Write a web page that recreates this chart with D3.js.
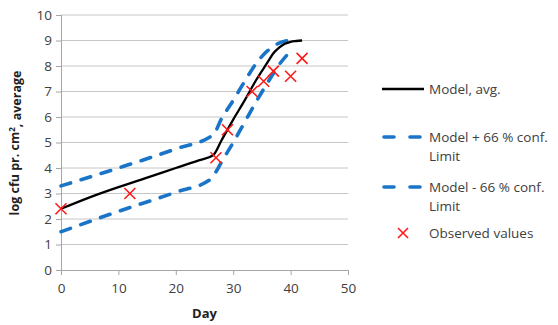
<!DOCTYPE html>
<html>
<head>
<meta charset="utf-8">
<script src="https://cdn.jsdelivr.net/npm/d3@7"></script>
<style>
  body { margin: 0; background: #fff; }
  text { font-family: "Open Sans", "Liberation Sans", sans-serif; }
</style>
</head>
<body>
<svg id="chart" width="558" height="325"></svg>
<script>
// model average curve [day, log cfu]
var modelAvg = [[0, 2.4], [5, 2.85], [10, 3.25], [15, 3.62], [20, 4.0], [24, 4.3], [26.5, 4.5],
  [28, 5.1], [30, 5.9], [32, 6.65], [34, 7.45], [36, 8.15], [37, 8.5], [38, 8.72], [39, 8.87],
  [40, 8.95], [41, 8.98], [42, 9.0]];
var modelUpper = [[0, 3.3], [10, 4.0], [20, 4.75], [26.5, 5.3],
  [28, 5.95], [30, 6.65], [32, 7.4], [34, 8.1], [36, 8.6], [38, 8.9], [39.5, 9.0]];
var modelLower = [[0, 1.5], [10, 2.3], [20, 3.05], [26, 3.55],
  [27, 3.85], [28, 4.25], [30, 5.0], [32, 5.8], [34, 6.6], [36, 7.35], [38, 8.05], [40.5, 8.7]];
var observed = [[0, 2.4], [12, 3.0], [27, 4.4], [29, 5.5], [33.3, 7.0], [35.3, 7.4], [37, 7.8], [40, 7.6], [42, 8.3]];

var xTicks = [0, 10, 20, 30, 40, 50];
var yTicks = [0, 1, 2, 3, 4, 5, 6, 7, 8, 9, 10];
var legendLabels = [["Model, avg."], ["Model + 66 % conf.", "Limit"], ["Model - 66 % conf.", "Limit"], ["Observed values"]];

var svg = d3.select("#chart");
var x = d3.scaleLinear().domain([0, 50]).range([61, 348]);
var y = d3.scaleLinear().domain([0, 10]).range([270, 15]);

// gridlines
svg.append("g").selectAll("line").data(yTicks.slice(1)).enter().append("line")
  .attr("x1", x(0)).attr("x2", x(50))
  .attr("y1", function(d) { return y(d); }).attr("y2", function(d) { return y(d); })
  .attr("stroke", "#c6c6c6").attr("stroke-width", 1);

// axes
var xAxis = d3.axisBottom(x).tickValues(xTicks).tickSize(5).tickPadding(6);
var yAxis = d3.axisLeft(y).tickValues(yTicks).tickSize(5).tickPadding(4);
var gx = svg.append("g").attr("transform", "translate(0,270)").call(xAxis);
var gy = svg.append("g").attr("transform", "translate(61,0)").call(yAxis);
[gx, gy].forEach(function(g) {
  g.select(".domain").attr("stroke", "#a6a6a6");
  g.selectAll(".tick line").attr("stroke", "#a6a6a6");
  g.selectAll(".tick text").attr("fill", "#404040").style("font-size", "13.5px")
    .style("font-family", "'Open Sans', sans-serif");
});
gx.selectAll(".tick text").attr("dy", "0.9em");

// axis titles
svg.append("text").attr("x", x(25)).attr("y", 318).attr("text-anchor", "middle")
  .style("font-size", "13px").style("font-weight", "bold").attr("fill", "#222").text("Day");
var yt = svg.append("text").attr("transform", "translate(19,143) rotate(-90)").attr("text-anchor", "middle")
  .style("font-size", "12.5px").style("font-weight", "bold").attr("fill", "#222");
yt.append("tspan").text("log cfu pr. cm");
yt.append("tspan").attr("dy", "-0.45em").style("font-size", "8px").text("2");
yt.append("tspan").attr("dy", "0.45em").text(", average");

// lines
var line = d3.line().x(function(d) { return x(d[0]); }).y(function(d) { return y(d[1]); })
  .curve(d3.curveMonotoneX);
var dashes = "10,11";
[modelUpper, modelLower].forEach(function(s) {
  svg.append("path").attr("d", line(s)).attr("fill", "none")
    .attr("stroke", "#1a75c8").attr("stroke-width", 3.6)
    .attr("stroke-linecap", "round").attr("stroke-dasharray", dashes);
});
svg.append("path").attr("d", line(modelAvg)).attr("fill", "none")
  .attr("stroke", "#000").attr("stroke-width", 2.3);

// observed markers
function cross(g, cx, cy, r) {
  g.append("path").attr("d", "M" + (cx - r) + "," + (cy - r) + "L" + (cx + r) + "," + (cy + r) +
    "M" + (cx - r) + "," + (cy + r) + "L" + (cx + r) + "," + (cy - r))
    .attr("stroke", "#ff1a1a").attr("stroke-width", 1.6).attr("fill", "none");
}
var gm = svg.append("g");
observed.forEach(function(d) { cross(gm, x(d[0]), y(d[1]), 5.5); });

// legend
var lg = svg.append("g");
var legendY = [89, 137, 187, 233];
lg.append("line").attr("x1", 382).attr("x2", 424).attr("y1", legendY[0]).attr("y2", legendY[0])
  .attr("stroke", "#000").attr("stroke-width", 2.3);
[1, 2].forEach(function(i) {
  lg.append("line").attr("x1", 384).attr("x2", 424).attr("y1", legendY[i]).attr("y2", legendY[i])
    .attr("stroke", "#1a75c8").attr("stroke-width", 3.6).attr("stroke-linecap", "round")
    .attr("stroke-dasharray", "10,16");
});
cross(lg, 403, legendY[3], 5);
legendLabels.forEach(function(lines, i) {
  var t = lg.append("text").attr("y", legendY[i])
    .style("font-size", "13.5px").attr("fill", "#404040");
  lines.forEach(function(s, j) {
    t.append("tspan").attr("x", 429).attr("dy", j == 0 ? "0.35em" : "1.4em").text(s);
  });
});
</script>
</body>
</html>
